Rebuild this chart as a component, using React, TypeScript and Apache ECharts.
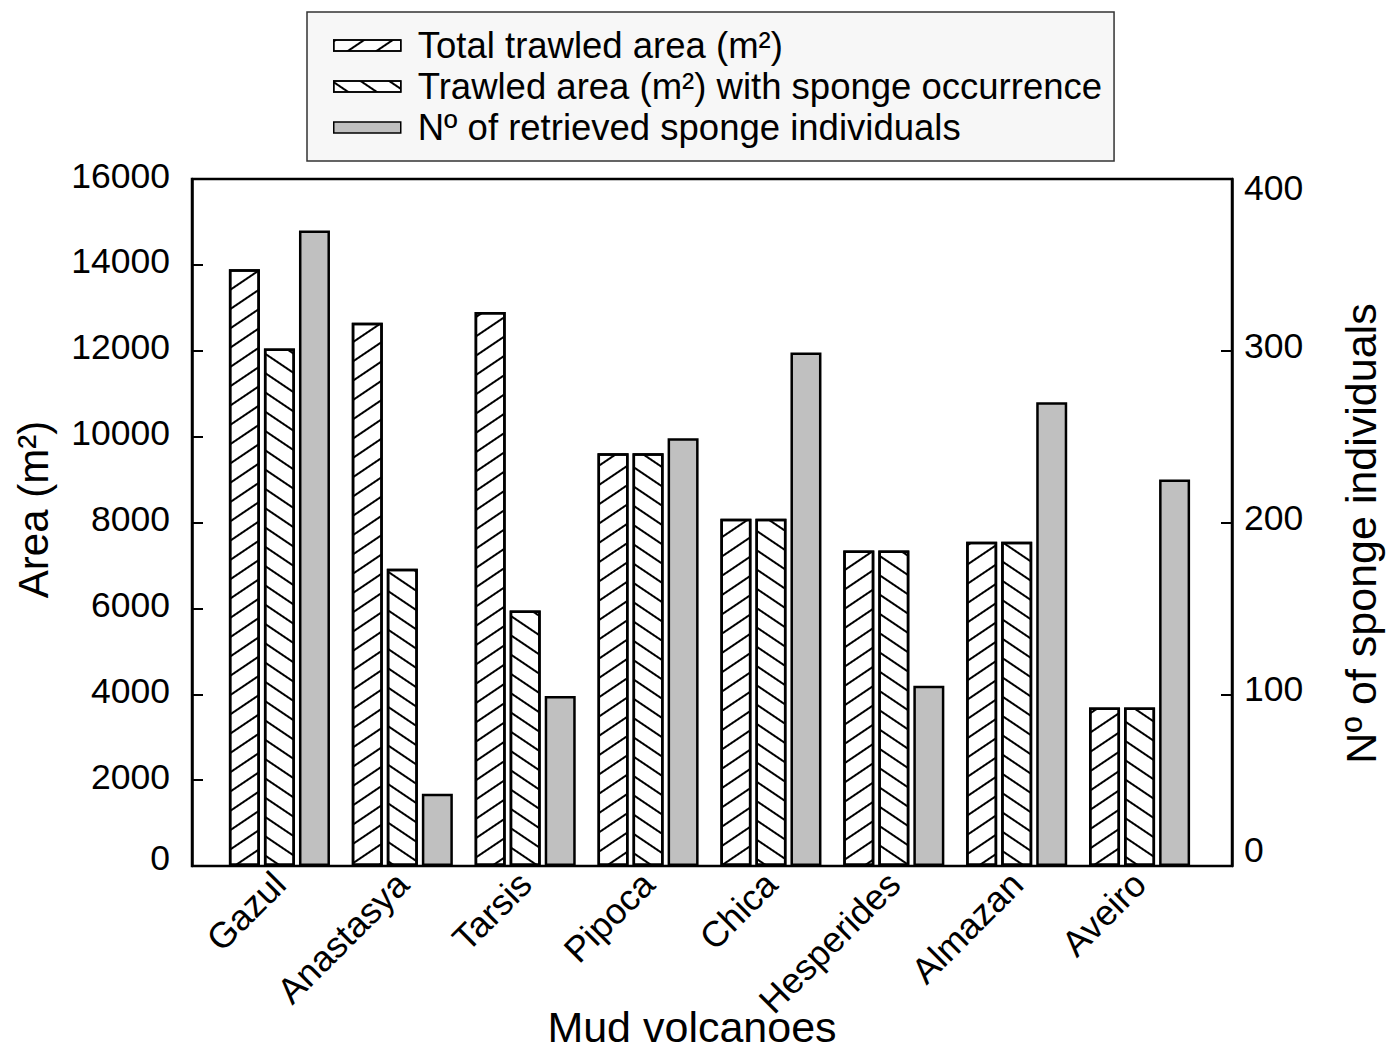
import React, { useEffect, useRef } from 'react';
import * as echarts from 'echarts';

const categories = ['Gazul', 'Anastasya', 'Tarsis', 'Pipoca', 'Chica', 'Hesperides', 'Almazan', 'Aveiro'];
const totalArea = [13900, 12650, 12900, 9610, 8090, 7350, 7550, 3690];
const spongeArea = [12050, 6920, 5950, 9610, 8090, 7350, 7550, 3690];
const spongeCount = [370, 42, 99, 249, 299, 105, 270, 225];

const seriesNames = [
  'Total trawled area (m²)',
  'Trawled area (m²) with sponge occurrence',
  'Nº of retrieved sponge individuals',
];
const areaAxis = { min: 0, max: 16000, interval: 2000 };
const countAxis = { min: 0, max: 400, interval: 100 };

const FONT = '"Liberation Sans", Arial, Helvetica, sans-serif';

export default function App() {
  const ref = useRef<HTMLDivElement>(null);
  useEffect(() => {
    if (!ref.current) return;
    const chart = echarts.init(ref.current, undefined, { renderer: 'svg' });
    const hatch = (deg: number) => ({
      symbol: 'rect',
      symbolSize: 1,
      symbolKeepAspect: false,
      dashArrayX: [1, 0],
      dashArrayY: [2, 14],
      rotation: (deg * Math.PI) / 180,
      color: '#000',
      backgroundColor: null,
    });
    const tickStyle = { show: true, inside: true, length: 11, lineStyle: { color: '#000', width: 2 } };
    const lab = { fontSize: 35.5, fontFamily: FONT, color: '#000' };
    const option: any = {
      animation: false,
      backgroundColor: '#fff',
      textStyle: { fontFamily: FONT, color: '#000' },
      legend: {
        orient: 'vertical',
        left: 307,
        top: 12,
        padding: [15, 12, 15, 26],
        backgroundColor: '#f7f7f7',
        borderColor: '#333',
        borderWidth: 1.5,
        borderRadius: 0,
        itemWidth: 67,
        itemHeight: 11,
        itemGap: 4,
        icon: 'rect',
        selectedMode: false,
        itemStyle: { borderColor: '#000', borderWidth: 1.5 },
        textStyle: { fontSize: 36.5, color: '#000', fontFamily: FONT, lineHeight: 36, padding: [0, 0, 0, 12] },
        data: seriesNames,
      },
      grid: [
        { left: 192, right: 165, top: 179, bottom: 186, show: true, borderColor: '#000', borderWidth: 2.5, backgroundColor: 'transparent', outerBoundsMode: 'none', containLabel: false },
        { left: 218, right: 196, top: 179, bottom: 186, outerBoundsMode: 'none', containLabel: false },
      ],
      xAxis: [
        { type: 'category', gridIndex: 0, data: categories, show: false },
        {
          type: 'category',
          gridIndex: 1,
          data: categories,
          axisLine: { show: false },
          axisTick: { show: false },
          axisLabel: { rotate: 45, fontSize: 36, margin: 12, color: '#000', interval: 0, fontFamily: FONT },
          name: 'Mud volcanoes',
          nameLocation: 'middle',
          nameGap: 143,
          nameMoveOverlap: false,
          nameTextStyle: { fontSize: 43, lineHeight: 36, color: '#000', fontFamily: FONT, padding: [0, 35, 0, 0] },
        },
      ],
      yAxis: [
        {
          type: 'value',
          gridIndex: 0,
          position: 'left',
          ...areaAxis,
          axisLine: { show: true, lineStyle: { color: '#000', width: 2.5 } },
          axisTick: tickStyle,
          splitLine: { show: false },
          axisLabel: {
            ...lab,
            margin: 22,
            formatter: (v: number) => (v === 0 ? '{mn|' + v + '}' : '{n|' + v + '}'),
            rich: {
              mn: { ...lab, padding: [0, 0, 16, 0] },
              n: { ...lab, padding: [0, 0, 7, 0] },
            },
          },
          name: 'Area (m²)',
          nameLocation: 'middle',
          nameGap: 138,
          nameMoveOverlap: false,
          nameTextStyle: { fontSize: 42, color: '#000', fontFamily: FONT, padding: [0, 0, 0, 26] },
        },
        {
          type: 'value',
          gridIndex: 0,
          position: 'right',
          ...countAxis,
          axisLine: { show: true, lineStyle: { color: '#000', width: 2.5 } },
          axisTick: tickStyle,
          splitLine: { show: false },
          axisLabel: {
            ...lab,
            margin: 12,
            formatter: (v: number) => (v === countAxis.max ? '{mx|' + v + '}' : v === 0 ? '{mn|' + v + '}' : '{n|' + v + '}'),
            rich: {
              mx: { ...lab, padding: [18, 0, 0, 0] },
              mn: { ...lab, padding: [0, 0, 32, 0] },
              n: { ...lab, padding: [0, 0, 10, 0] },
            },
          },
          name: 'Nº of sponge individuals',
          nameLocation: 'middle',
          nameGap: 107,
          nameMoveOverlap: false,
          nameTextStyle: { fontSize: 43, color: '#000', fontFamily: FONT, padding: [0, 22, 0, 0] },
        },
        { type: 'value', gridIndex: 1, ...areaAxis, show: false, splitLine: { show: false } },
        { type: 'value', gridIndex: 1, ...countAxis, show: false, splitLine: { show: false } },
      ],
      series: [
        {
          name: seriesNames[0],
          type: 'bar',
          xAxisIndex: 1,
          yAxisIndex: 2,
          data: totalArea,
          barWidth: 31,
          barGap: '13%',
          itemStyle: { color: '#fff', borderColor: '#000', borderWidth: 2.5, decal: hatch(-34) },
        },
        {
          name: seriesNames[1],
          type: 'bar',
          xAxisIndex: 1,
          yAxisIndex: 2,
          data: spongeArea,
          barWidth: 31,
          barGap: '13%',
          itemStyle: { color: '#fff', borderColor: '#000', borderWidth: 2.5, decal: hatch(34) },
        },
        {
          name: seriesNames[2],
          type: 'bar',
          xAxisIndex: 1,
          yAxisIndex: 3,
          data: spongeCount,
          barWidth: 31,
          barGap: '13%',
          itemStyle: { color: '#c0c0c0', borderColor: '#000', borderWidth: 2.5 },
        },
      ],
    };
    chart.setOption(option);
    return () => chart.dispose();
  }, []);
  return <div ref={ref} style={{ position: 'fixed', left: 0, top: 0, width: 1397, height: 1052 }} />;
}
